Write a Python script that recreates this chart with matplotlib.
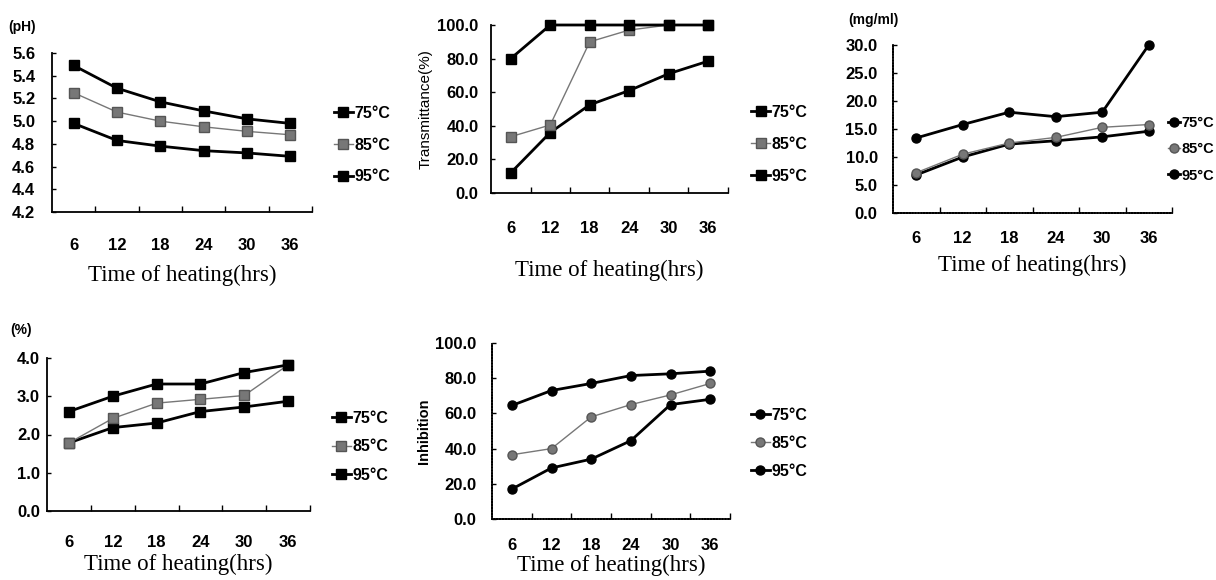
import matplotlib.pyplot as plt

W, H = 1216, 580

hours = [6, 12, 18, 24, 30, 36]
labels = ['75°C', '85°C', '95°C']

ph_75 = [5.49, 5.29, 5.17, 5.09, 5.02, 4.98]
ph_85 = [5.25, 5.08, 5.00, 4.95, 4.91, 4.88]
ph_95 = [4.98, 4.83, 4.78, 4.74, 4.72, 4.69]

tr_75 = [12, 36, 52.5, 61, 71, 78.5]
tr_85 = [33.5, 40.5, 90, 97, 100, 100]
tr_95 = [80, 100, 100, 100, 100, 100]

mg_75 = [6.8, 10.0, 12.3, 12.9, 13.6, 14.6]
mg_85 = [7.2, 10.5, 12.5, 13.5, 15.3, 15.8]
mg_95 = [13.4, 15.8, 18.0, 17.2, 18.0, 30.0]

pc_75 = [1.78, 2.18, 2.30, 2.60, 2.72, 2.87]
pc_85 = [1.78, 2.42, 2.82, 2.92, 3.02, 3.82]
pc_95 = [2.60, 3.00, 3.32, 3.32, 3.62, 3.82]

inh_75 = [17, 29, 34, 44.5, 65, 68]
inh_85 = [36.5, 40, 58, 65, 70.5, 77]
inh_95 = [64.5, 73, 77, 81.5, 82.5, 84]

tick_font = ['Liberation Sans', 'DejaVu Sans']
label_font = ['Liberation Serif', 'DejaVu Serif']

fig = plt.figure(figsize=(W / 100, H / 100), dpi=100)


def make_axes(x0, x1, ytop, ybot):
    """axes from pixel extents of the plot area"""
    return fig.add_axes([x0 / W, 1 - ybot / H, (x1 - x0) / W, (ybot - ytop) / H])


def panel(ax, series, ylim, yticks, marker, dotted=False, leg_x=1.04,
          leg_y=0.42, leg_space=1.2, tick_pad=20, lab_pad=8, y_pad=10,
          leg_size=11.5, handle_len=1.2):
    styles = [dict(color='black', lw=2.0, ms=6.5),
              dict(color='#777777', lw=1.0, ms=6.5, mec='#555555'),
              dict(color='black', lw=2.0, ms=6.5)]
    for vals, lab, st in zip(series, labels, styles):
        ax.plot(hours, vals, marker=marker, label=lab, clip_on=False, **st)
    ax.set_xlim(3, 39)
    ax.set_ylim(*ylim)
    ax.set_xticks(hours)
    ax.set_xticks([9, 15, 21, 27, 33, 39], minor=True)
    ax.set_yticks(yticks)
    ax.set_yticklabels(['{:.1f}'.format(v) for v in yticks])
    ax.tick_params(axis='x', which='major', length=0, pad=tick_pad)
    ax.tick_params(axis='x', which='minor', direction='in', length=4, width=1)
    ax.tick_params(axis='y', direction='in', length=3, width=1, pad=y_pad)
    for t in ax.get_xticklabels() + ax.get_yticklabels():
        t.set_fontfamily(tick_font)
        t.set_fontweight('bold')
        t.set_fontsize(12)
    for s in ['top', 'right']:
        ax.spines[s].set_visible(False)
    for s in ['left', 'bottom']:
        ax.spines[s].set_linewidth(1.3)
        if dotted:
            ax.spines[s].set_linestyle((0, (1, 0.6)))
    ax.legend(loc='center left', bbox_to_anchor=(leg_x, leg_y), frameon=False,
              handlelength=handle_len, handletextpad=0.1, labelspacing=leg_space,
              borderpad=0.2,
              prop=dict(family=tick_font, weight='bold', size=leg_size))
    ax.set_xlabel('Time of heating(hrs)', family=label_font, fontsize=16.5, labelpad=lab_pad)


# panel 1: pH
ax1 = make_axes(52, 312, 53, 212)
panel(ax1, [ph_75, ph_85, ph_95], (4.2, 5.6), [4.2, 4.4, 4.6, 4.8, 5.0, 5.2, 5.4, 5.6],
      's', leg_y=0.42, leg_space=1.05, tick_pad=19, lab_pad=8, y_pad=12)
fig.text(8 / W, 1 - 27 / H, '(pH)', family=tick_font, weight='bold', fontsize=10, va='center')

# panel 2: transmittance
ax2 = make_axes(491, 728, 25, 193)
panel(ax2, [tr_75, tr_85, tr_95], (0, 100), [0, 20, 40, 60, 80, 100],
      's', leg_x=1.05, leg_y=0.29, leg_space=1.05, tick_pad=20, lab_pad=17, y_pad=9)
ax2.set_ylabel('Transmittance(%)', family=tick_font, fontsize=11, labelpad=3)

# panel 3: mg/ml
ax3 = make_axes(893, 1172, 45, 213)
panel(ax3, [mg_75, mg_85, mg_95], (0, 30), [0, 5, 10, 15, 20, 25, 30],
      'o', dotted=True, leg_x=0.95, leg_y=0.38, leg_space=0.85, tick_pad=13,
      lab_pad=6, y_pad=11, leg_size=10.5, handle_len=0.8)
fig.text(848 / W, 1 - 20 / H, '(mg/ml)', family=tick_font, weight='bold', fontsize=10,
         va='center')

# panel 4: %
ax4 = make_axes(47, 310, 358, 511)
panel(ax4, [pc_75, pc_85, pc_95], (0, 4), [0, 1, 2, 3, 4],
      's', leg_y=0.42, leg_space=0.85, tick_pad=17, lab_pad=3, y_pad=5)
fig.text(10 / W, 1 - 330 / H, '(%)', family=tick_font, weight='bold', fontsize=10,
         va='center')

# panel 5: inhibition
ax5 = make_axes(492, 730, 343, 519)
panel(ax5, [inh_75, inh_85, inh_95], (0, 100), [0, 20, 40, 60, 80, 100],
      'o', dotted=True, leg_x=1.04, leg_y=0.43, leg_space=0.8, tick_pad=14,
      lab_pad=1, y_pad=11)
ax5.set_ylabel('Inhibition', family=tick_font, fontsize=10.5, weight='bold', labelpad=3)

fig.savefig('out.png', dpi=100)
